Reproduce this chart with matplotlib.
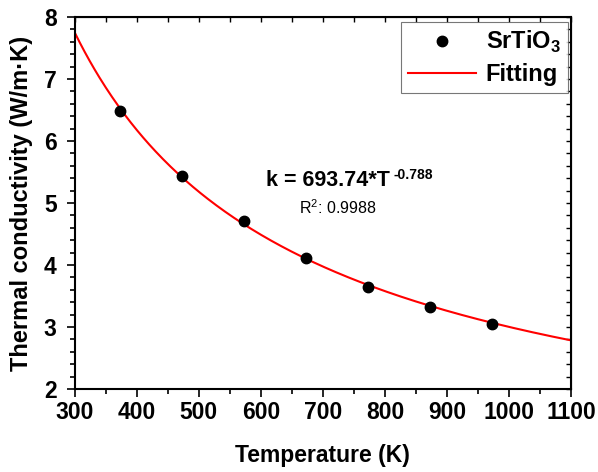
import matplotlib.pyplot as plt
import numpy as np
from matplotlib.ticker import MultipleLocator

plt.rcParams["font.family"] = ["Liberation Sans", "DejaVu Sans"]
plt.rcParams["mathtext.fontset"] = "custom"
plt.rcParams["mathtext.rm"] = "Liberation Sans"
plt.rcParams["mathtext.bf"] = "Liberation Sans:bold"

# measured thermal conductivity of SrTiO3
temperature = [373, 473, 573, 673, 773, 873, 973]
kappa = [6.48, 5.44, 4.71, 4.12, 3.65, 3.32, 3.04]

# power-law fit k = A * T^b
fit_a = 693.74
fit_b = -0.788
r_squared = 0.9988

T = np.linspace(300, 1100, 400)
k_fit = fit_a * T**fit_b

fig = plt.figure(figsize=(5.98, 4.72), dpi=100)
ax = fig.add_axes([0.125, 0.176, 0.83, 0.788])

fit_line, = ax.plot(T, k_fit, color="red", lw=1.5, zorder=2)
pts, = ax.plot(temperature, kappa, "o", color="black", ms=7.5, zorder=3)

ax.set_xlim(300, 1100)
ax.set_ylim(2, 8)
ax.xaxis.set_major_locator(MultipleLocator(100))
ax.xaxis.set_minor_locator(MultipleLocator(50))
ax.yaxis.set_major_locator(MultipleLocator(1))
ax.yaxis.set_minor_locator(MultipleLocator(0.2))

for side in ax.spines.values():
    side.set_linewidth(1.5)
ax.tick_params(which="both", direction="out", width=1.2, labelsize=16.5)
ax.tick_params(axis="x", pad=3)
ax.tick_params(axis="y", pad=7)
ax.tick_params(which="major", length=6)
ax.tick_params(which="minor", length=3.5)
ax.set_xticks(ax.get_xticks())
ax.set_xticklabels([f"{int(v)}" for v in ax.get_xticks()], fontweight="bold")
ax.set_yticks(ax.get_yticks())
ax.set_yticklabels([f"{int(v)}" for v in ax.get_yticks()], fontweight="bold")
ax.set_xlim(300, 1100)
ax.set_ylim(2, 8)

# mirrored inward ticks on top and right
sec_x = ax.secondary_xaxis("top")
sec_x.xaxis.set_major_locator(MultipleLocator(100))
sec_x.xaxis.set_minor_locator(MultipleLocator(50))
sec_x.tick_params(which="both", direction="in", width=1.0, length=3.5, labeltop=False)
sec_y = ax.secondary_yaxis("right")
sec_y.yaxis.set_major_locator(MultipleLocator(1))
sec_y.yaxis.set_minor_locator(MultipleLocator(0.2))
sec_y.tick_params(which="both", direction="in", width=1.0, length=3.5, labelright=False)

ax.set_xlabel("Temperature (K)", fontsize=16.5, fontweight="bold", labelpad=14)
ax.set_ylabel("Thermal conductivity (W/m·K)", fontsize=17, fontweight="bold", labelpad=8)

eq = ax.text(608, 5.37, "k = %.2f*T" % fit_a, fontsize=15.5, fontweight="bold",
             ha="left", va="center")
ax.annotate("%.3f" % fit_b, xy=(1, 1), xycoords=eq, xytext=(3, 1),
            textcoords="offset points", fontsize=10, fontweight="bold",
            ha="left", va="top")
ax.text(724, 4.92, "R$^2$: %.4f" % r_squared, fontsize=11.5, ha="center", va="center")

leg = ax.legend([pts, fit_line], ["SrTiO$_\\mathbf{3}$", "Fitting"], loc="upper right",
                fancybox=False, edgecolor="#555555", borderpad=0.3, handlelength=2.9,
                labelspacing=0.35, handletextpad=0.4, borderaxespad=0,
                prop={"weight": "bold", "size": 17}, bbox_to_anchor=(0.994, 0.987))
leg.get_frame().set_linewidth(0.8)

fig.savefig("out.png", dpi=100)
